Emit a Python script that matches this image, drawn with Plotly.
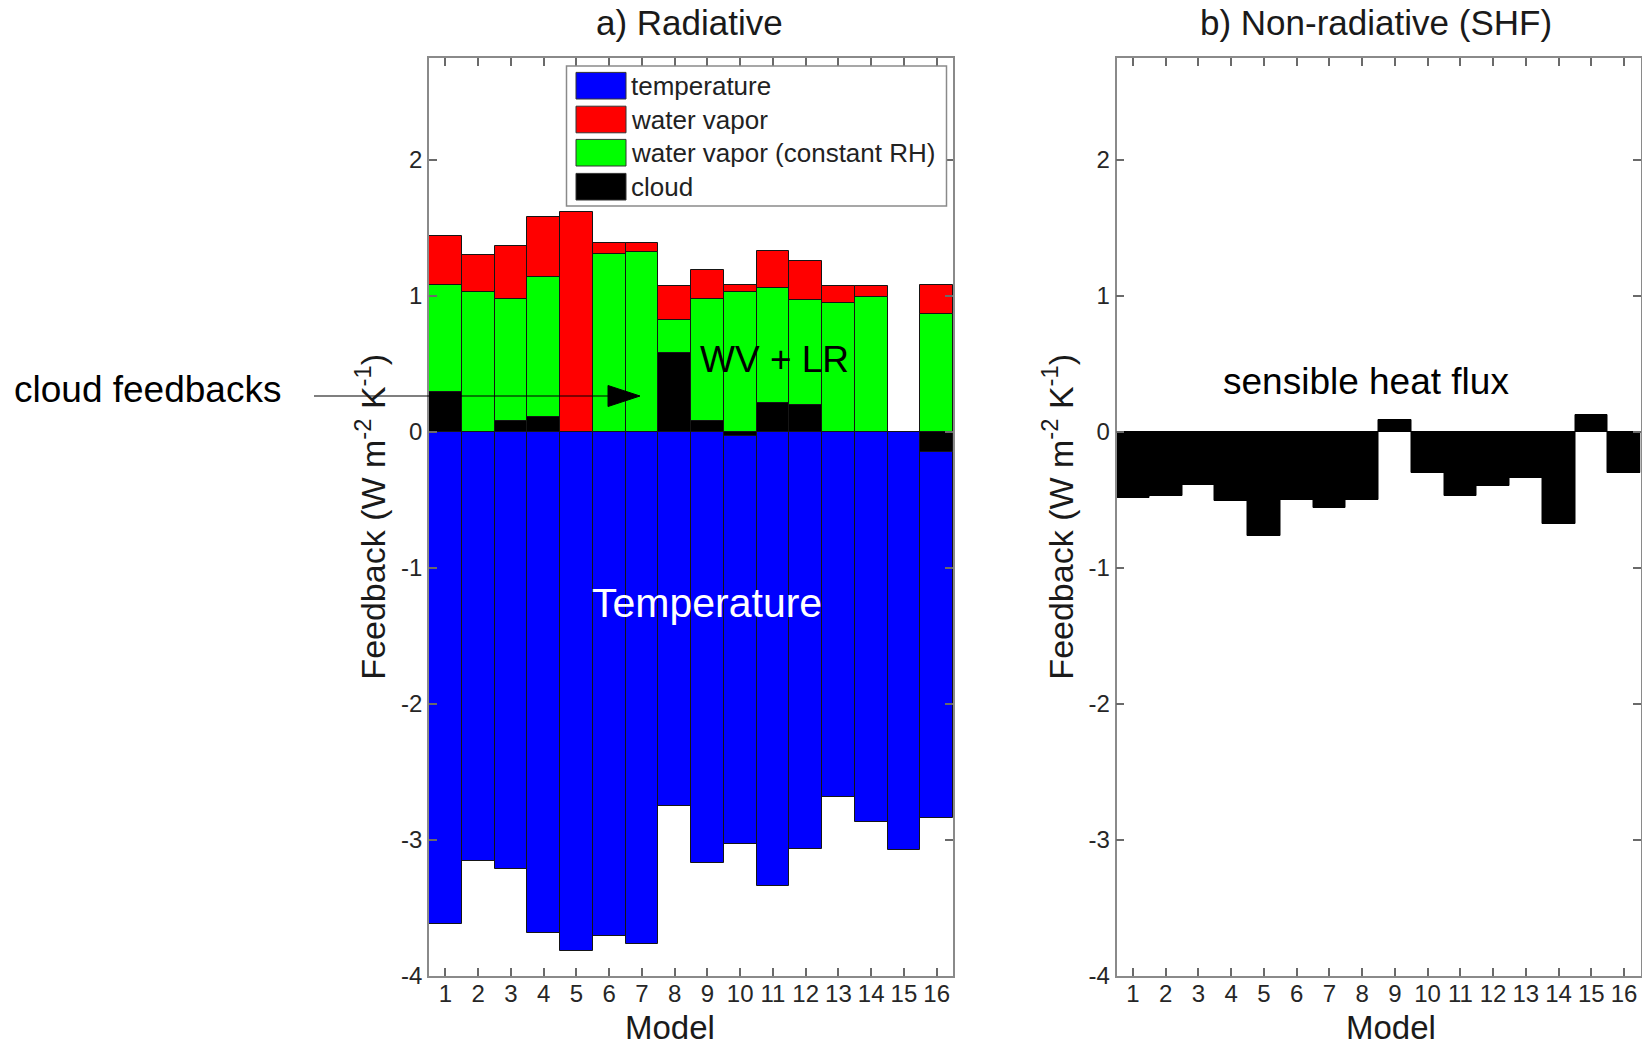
import plotly.graph_objects as go

# ---------------- data ----------------
models = list(range(1, 17))
model_labels = [str(m) for m in models]

# radiative feedbacks (W m-2 K-1), stacked segments
temperature = [-3.62, -3.16, -3.22, -3.69, -3.82, -3.71, -3.77, -2.75,
               -3.17, -3.00, -3.34, -3.07, -2.69, -2.87, -3.08, -2.69]
water_vapor = [0.36, 0.27, 0.39, 0.44, 1.62, 0.08, 0.07, 0.25,
               0.21, 0.05, 0.27, 0.29, 0.12, 0.08, 0.0, 0.21]
water_vapor_rh = [0.79, 1.03, 0.90, 1.03, 0.0, 1.31, 1.32, 0.24,
                  0.90, 1.03, 0.85, 0.77, 0.95, 0.99, 0.0, 0.87]
cloud = [0.29, 0.0, 0.08, 0.11, 0.0, 0.0, 0.0, 0.58,
         0.08, -0.03, 0.21, 0.20, 0.0, 0.0, 0.0, -0.15]

# non-radiative: sensible heat flux
shf = [-0.49, -0.47, -0.39, -0.51, -0.77, -0.50, -0.56, -0.50,
       0.09, -0.30, -0.47, -0.40, -0.34, -0.68, 0.12, -0.30]

y_ticks = [-4, -3, -2, -1, 0, 1, 2]
y_tick_labels = ["-4", "-3", "-2", "-1", "0", "1", "2"]

legend_names = ["temperature", "water vapor", "water vapor (constant RH)", "cloud"]
legend_colors = ["#0000FF", "#FF0000", "#00FF00", "#000000"]

# ---------------- figure ----------------
W, H = 1642, 1048
FONT = "Liberation Sans, Arial, Helvetica, sans-serif"


def px(x):
    return x / W


def py(y):
    return 1 - y / H


def nz(vals):
    return [v if v != 0 else None for v in vals]


fig = go.Figure()
stack = [("cloud", cloud, "#000000"),
         ("water vapor (constant RH)", water_vapor_rh, "#00FF00"),
         ("water vapor", water_vapor, "#FF0000"),
         ("temperature", temperature, "#0000FF")]
for name, vals, color in stack:
    fig.add_trace(go.Bar(x=models, y=nz(vals), name=name, width=1,
                         marker=dict(color=color, line=dict(color="#151515", width=1)),
                         xaxis="x", yaxis="y", showlegend=False))

fig.add_trace(go.Bar(x=models, y=shf, name="sensible heat flux", width=1,
                     marker=dict(color="#000000", line=dict(color="#000000", width=1)),
                     xaxis="x2", yaxis="y2", showlegend=False))

axis_line = dict(showline=True, linecolor="#8a8a8a", linewidth=1.5, mirror="ticks",
                 ticks="inside", ticklen=8, tickcolor="#6a6a6a", tickwidth=1.5,
                 showgrid=False, zeroline=False, automargin=False,
                 tickfont=dict(size=24, color="#262626", family=FONT))

xcommon = dict(axis_line, range=[0.5, 16.5], tickmode="array", tickvals=models,
               ticktext=model_labels, ticklabelstandoff=-4)
ycommon = dict(axis_line, range=[-4, 2.75], tickmode="array", tickvals=y_ticks,
               ticktext=y_tick_labels, ticklabelstandoff=0,
               domain=[py(975.5), py(58)],
               title=dict(text="Feedback (W m<sup>-2</sup> K<sup>-1</sup>)",
                          font=dict(size=34, color="#1a1a1a", family=FONT), standoff=5))

fig.update_layout(
    width=W, height=H, margin=dict(l=0, r=0, t=0, b=0, autoexpand=False),
    barmode="relative", bargap=0,
    plot_bgcolor="white", paper_bgcolor="white", showlegend=False,
    font=dict(family=FONT, color="#222222"),
    xaxis=dict(xcommon, domain=[px(429), px(953)], anchor="y"),
    yaxis=dict(ycommon, anchor="x"),
    xaxis2=dict(xcommon, domain=[px(1116.5), px(1640.5)], anchor="y2"),
    yaxis2=dict(ycommon, anchor="x2"),
)

# ---------------- annotations ----------------
def text_ann(text, x, y, size, color="#000000", xref="paper", yref="paper", yanchor="middle"):
    return dict(text=text, x=x, y=y, xref=xref, yref=yref, xanchor="center", yanchor=yanchor,
                showarrow=False, font=dict(size=size, color=color, family=FONT))


ann = [
    text_ann("a) Radiative", px(689), py(23), 35, "#1a1a1a"),
    text_ann("b) Non-radiative (SHF)", px(1376), py(23), 35, "#1a1a1a"),
    text_ann("Model", px(670), py(1047.5), 33, "#1a1a1a", yanchor="bottom"),
    text_ann("Model", px(1391), py(1047.5), 33, "#1a1a1a", yanchor="bottom"),
    text_ann("WV + LR", 11.06, 0.53, 37, xref="x", yref="y"),
    text_ann("Temperature", 8.99, -1.26, 41, "#FFFFFF", xref="x", yref="y"),
    text_ann("sensible heat flux", 8.12, 0.37, 37, xref="x2", yref="y2"),
    text_ann("cloud feedbacks", px(147), py(389), 37),
]

# custom legend (large swatches as in the original)
shapes = []
shapes.append(dict(type="rect", xref="paper", yref="paper",
                   x0=px(566.5), x1=px(946.5), y0=py(206), y1=py(66),
                   line=dict(color="#8a8a8a", width=1.5), fillcolor="white", layer="above"))
row_y = [85.7, 119.5, 152.7, 186.7]
for name, color, ry in zip(legend_names, legend_colors, row_y):
    shapes.append(dict(type="rect", xref="paper", yref="paper",
                       x0=px(576), x1=px(626), y0=py(ry + 13.3), y1=py(ry - 13.3),
                       line=dict(color="#333333", width=1), fillcolor=color, layer="above"))
    ann.append(dict(text=name, x=px(629), y=py(ry), xref="paper", yref="paper",
                    xanchor="left", yanchor="middle", showarrow=False,
                    font=dict(size=26, color="#222222", family=FONT)))

# arrow for "cloud feedbacks"
shapes.append(dict(type="line", xref="paper", yref="paper",
                   x0=px(314), x1=px(610), y0=py(396), y1=py(396),
                   line=dict(color="#000000", width=1.2), layer="above"))
shapes.append(dict(type="path", xref="paper", yref="paper",
                   path=f"M {px(608)},{py(385.5)} L {px(640)},{py(396)} L {px(608)},{py(406.5)} Z",
                   fillcolor="#000000", line=dict(color="#000000", width=1), layer="above"))

fig.update_layout(annotations=ann, shapes=shapes)

fig.write_html("out.html")
